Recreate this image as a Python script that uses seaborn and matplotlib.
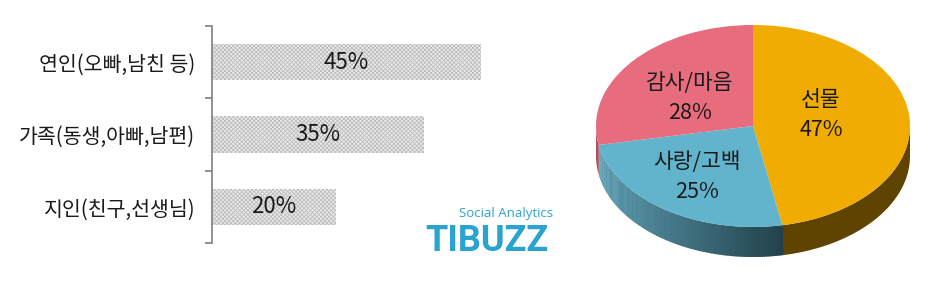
import numpy as np
import matplotlib
matplotlib.use("Agg")
import matplotlib.pyplot as plt
import matplotlib.colors as mcolors
from matplotlib.patches import Polygon
import seaborn as sns

# ---- data ----
bar_categories = ["연인(오빠,남친 등)", "가족(동생,아빠,남편)", "지인(친구,선생님)"]
bar_values = [44.8, 35.3, 20.6]
bar_labels = ["45%", "35%", "20%"]

pie_categories = ["선물", "사랑/고백", "감사/마음"]
pie_values = [47, 25, 28]

sns.set_theme(style="white")
plt.rcParams['font.family'] = ['Noto Sans CJK KR', 'DejaVu Sans']
plt.rcParams['font.weight'] = 'light'
plt.rcParams['hatch.linewidth'] = 0.6

W, H = 944, 293
fig = plt.figure(figsize=(W / 100, H / 100), dpi=100)

def px_axes(x0, y0, x1, y1):
    return fig.add_axes([x0 / W, 1 - y1 / H, (x1 - x0) / W, (y1 - y0) / H])

TXT = "#1a1a1a"

# ---- bar chart ----
ax = px_axes(212, 26, 512, 243)
sns.barplot(x=bar_values, y=bar_categories, orient="h", ax=ax, width=0.5,
            color="#ececec", saturation=1)
for p in ax.patches:
    p.set_hatch("xxxxxxxx")
    p.set_edgecolor("#bcbcbc")
    p.set_linewidth(0)
ax.set_xlim(0, 50)
ax.set_ylim(2.5, -0.5)
ax.set_xticks([])
for s in ["top", "right", "bottom"]:
    ax.spines[s].set_visible(False)
ax.spines["left"].set_color("#888888")
ax.spines["left"].set_linewidth(1.3)
ax.tick_params(axis="y", which="major", length=0, pad=12, labelsize=14.8,
               labelcolor=TXT)
ax.set_yticks([-0.5, 0.5, 1.5, 2.5], minor=True)
ax.tick_params(axis="y", which="minor", length=5, width=1.3, color="#888888",
               direction="out", left=True)
ax.set_xlabel("")
ax.set_ylabel("")
for i, (v, lab) in enumerate(zip(bar_values, bar_labels)):
    ax.text(v / 2, i, lab, ha="center", va="center", fontsize=16, color=TXT)

# ---- logo ----
fig.text(553 / W, 1 - 213 / H, "Social Analytics", ha="right", va="center",
         fontsize=9.5, fontweight="normal", color="#2ba3cf",
         family=["Open Sans", "DejaVu Sans"])
fig.text(487 / W, 1 - 241 / H, "TIBUZZ", ha="center", va="center",
         fontsize=26, fontweight="bold", color="#2ba3cf",
         family=["Roboto", "DejaVu Sans"])

# ---- 3D-ish pie ----
cx, cy, rx, ry = 753, 126, 157, 101
xl, xr, yt, yb = -1.1, 1.1, 1.15, -1.6
pax = px_axes(cx + xl * rx, cy - yt * ry, cx + xr * rx, cy - yb * ry)
top_colors = ["#f0ac00", "#62b4cc", "#e76c7e"]
side_dark = ["#5e4400", None, "#b04f5d"]
depth = 30 / ry

fracs = np.array(pie_values, dtype=float) / sum(pie_values)
starts = 90 - 360 * np.concatenate([[0], np.cumsum(fracs)[:-1]])
ends = starts - 360 * fracs

blue_l = np.array(mcolors.to_rgb("#5b9db2"))
blue_d = np.array(mcolors.to_rgb("#22414b"))
for i in range(len(pie_values)):
    a0, a1 = ends[i], starts[i]
    for off in (-360, 0, 360):
        lo = max(a0, 180 + off)
        hi = min(a1, 360 + off)
        if hi <= lo:
            continue
        if side_dark[i] is not None:
            t = np.radians(np.linspace(lo, hi, 80))
            xs, ys = np.cos(t), np.sin(t)
            pts = np.vstack([np.c_[xs, ys], np.c_[xs[::-1], ys[::-1] - depth]])
            pax.add_patch(Polygon(pts, closed=True, fc=side_dark[i], ec="none", zorder=1))
        else:
            n = 120
            edges = np.linspace(lo, hi, n + 1)
            xend = np.cos(np.radians(hi))
            for k in range(n):
                t = np.radians(np.linspace(edges[k], edges[k + 1] + 0.3, 4))
                xs, ys = np.cos(t), np.sin(t)
                xm = np.cos(np.radians((edges[k] + edges[k + 1]) / 2))
                f = np.clip((xm + 1) / (xend + 1), 0, 1)
                col = blue_l * (1 - f) + blue_d * f
                pts = np.vstack([np.c_[xs, ys], np.c_[xs[::-1], ys[::-1] - depth]])
                pax.add_patch(Polygon(pts, closed=True, fc=col, ec="none", zorder=1))

pax.pie(pie_values, colors=top_colors, startangle=90, counterclock=False,
        radius=1, center=(0, 0), wedgeprops=dict(linewidth=0, zorder=2))
pax.set_aspect("auto")
pax.set_xlim(xl, xr)
pax.set_ylim(yb, yt)
pax.axis("off")

label_pos = [(821, 100, 130), (697, 162, 192), (690, 83, 113)]
for (lx, ly1, ly2), name, v in zip(label_pos, pie_categories, pie_values):
    pax.text((lx - cx) / rx, (cy - ly1) / ry, name, ha="center", va="center",
             fontsize=15.5, color=TXT, zorder=5)
    pax.text((lx - cx) / rx, (cy - ly2) / ry, f"{v}%", ha="center", va="center",
             fontsize=15.5, color=TXT, zorder=5)

fig.savefig("out.png", dpi=100)
